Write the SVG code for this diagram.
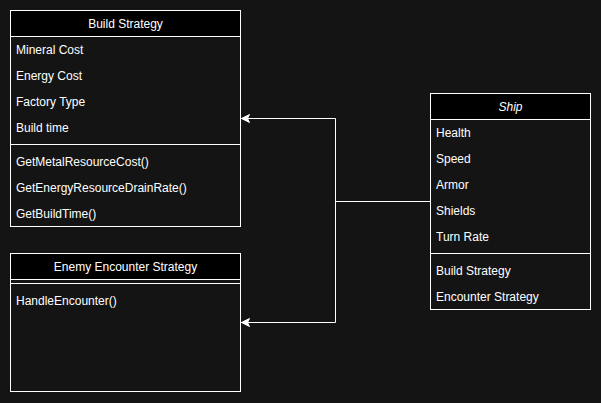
<svg xmlns="http://www.w3.org/2000/svg" width="601" height="403" viewBox="0 0 601 403">
<style>
.box{fill:#141414;stroke:#ffffff;stroke-width:1}
.hdr{fill:#000000;stroke:#ffffff;stroke-width:1}
.sep{stroke:#ffffff;stroke-width:1}
text{font-family:"Liberation Sans",Arial,Helvetica,sans-serif;font-size:12px;fill:#ffffff}
.t{text-anchor:middle}
.edge{fill:none;stroke:#ffffff;stroke-width:1}
</style>
<defs>
<marker id="arr" markerWidth="10" markerHeight="10" refX="9" refY="5" orient="auto" markerUnits="userSpaceOnUse" viewBox="0 0 10 10">
<path d="M1,1 L9,5 L1,9 L3,5 Z" fill="#ffffff" stroke="#ffffff" stroke-width="1"/>
</marker>
</defs>
<rect width="601" height="403" fill="#141414"/>
<g id="build-strategy">
<rect class="box" x="10.5" y="10.5" width="230" height="216"/>
<rect class="hdr" x="10.5" y="10.5" width="230" height="26"/>
<text class="t" x="125.5" y="27.5">Build Strategy</text>
<text x="16" y="53.5">Mineral Cost</text>
<text x="16" y="79.5">Energy Cost</text>
<text x="16" y="105.5">Factory Type</text>
<text x="16" y="131.5">Build time</text>
<line class="sep" x1="10.5" y1="144.5" x2="240.5" y2="144.5"/>
<text x="16" y="165.5">GetMetalResourceCost()</text>
<text x="16" y="191.5">GetEnergyResourceDrainRate()</text>
<text x="16" y="217.5">GetBuildTime()</text>
</g>
<g id="enemy-encounter-strategy">
<rect class="box" x="10.5" y="253.5" width="230" height="138"/>
<rect class="hdr" x="10.5" y="253.5" width="230" height="26"/>
<text class="t" x="125.5" y="270.5">Enemy Encounter Strategy</text>
<line class="sep" x1="10.5" y1="283.5" x2="240.5" y2="283.5"/>
<text x="16" y="304.5">HandleEncounter()</text>
</g>
<g id="ship">
<rect class="box" x="430.5" y="93.5" width="160" height="216"/>
<rect class="hdr" x="430.5" y="93.5" width="160" height="26"/>
<text class="t" x="510.5" y="110.5" font-style="italic">Ship</text>
<text x="436" y="136.5">Health</text>
<text x="436" y="162.5">Speed</text>
<text x="436" y="188.5">Armor</text>
<text x="436" y="214.5">Shields</text>
<text x="436" y="240.5">Turn Rate</text>
<line class="sep" x1="430.5" y1="253.5" x2="590.5" y2="253.5"/>
<text x="436" y="274.5">Build Strategy</text>
<text x="436" y="300.5">Encounter Strategy</text>
</g>
<g id="connectors">
<path class="edge" d="M430.5,201.5 H335.5 V118.5 H241.5" marker-end="url(#arr)"/>
<path class="edge" d="M430.5,201.5 H335.5 V322.5 H241.5" marker-end="url(#arr)"/>
</g>
</svg>
